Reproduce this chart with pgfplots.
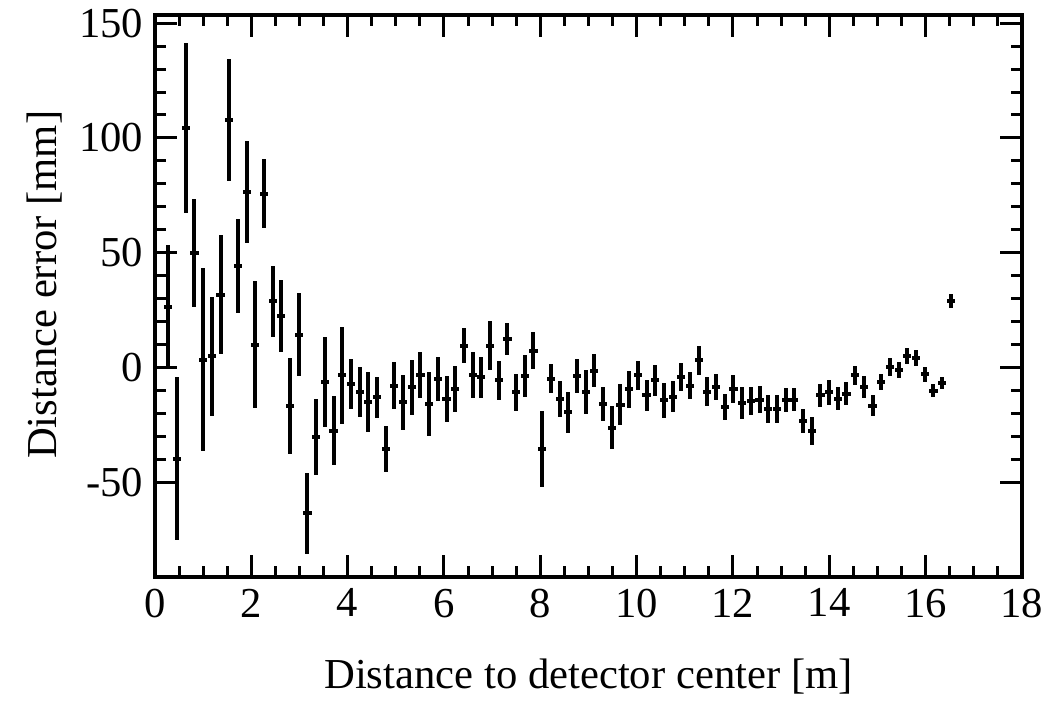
\documentclass[border=0pt]{standalone}
\usepackage{fontspec}
\setmainfont{Liberation Serif}
\usepackage{pgfplots}
\pgfplotsset{compat=1.18}
\usepackage{pgfplotstable}

\pgfplotstableread{
x y ex ey
0.277 26.4 0.085 27
0.458 -39.6 0.085 35.5
0.638 104.3 0.085 37
0.819 50.0 0.085 23.5
0.999 3.6 0.085 40
1.180 5.0 0.085 26
1.360 31.9 0.085 26
1.541 107.7 0.085 26.5
1.721 44.2 0.085 20.5
1.902 76.5 0.085 22
2.082 10.1 0.085 27.6
2.263 75.8 0.085 15
2.443 29.0 0.085 15.5
2.624 22.4 0.085 15.6
2.804 -16.7 0.085 21
2.985 14.5 0.085 18
3.165 -63.3 0.085 17.5
3.346 -30.0 0.085 16.5
3.526 -6.2 0.085 19.5
3.707 -27.3 0.085 15
3.887 -3.3 0.085 21
4.068 -7.0 0.085 11
4.248 -10.6 0.085 11
4.429 -15.0 0.085 13
4.609 -12.8 0.085 9
4.790 -35.2 0.085 10
4.970 -7.7 0.085 10.3
5.151 -15.0 0.085 12
5.331 -8.4 0.085 12
5.512 -3.3 0.085 10
5.692 -15.7 0.085 14
5.873 -4.8 0.085 9.5
6.053 -13.5 0.085 10
6.234 -9.1 0.085 10
6.414 9.7 0.085 7.6
6.595 -3.3 0.085 10
6.775 -4.1 0.085 9
6.956 9.7 0.085 10.6
7.136 -5.5 0.085 8.5
7.317 12.6 0.085 7
7.497 -10.6 0.085 8
7.678 -3.6 0.085 9
7.858 7.5 0.085 8
8.039 -35.2 0.085 16.5
8.219 -4.8 0.085 6.3
8.400 -13.5 0.085 7.7
8.580 -19.3 0.085 9
8.761 -3.6 0.085 7.4
8.941 -10.6 0.085 9.6
9.122 -1.2 0.085 7
9.302 -15.7 0.085 7.5
9.483 -26.1 0.085 9.4
9.663 -16.0 0.085 9
9.844 -9.4 0.085 8
10.024 -3.3 0.085 6.3
10.205 -12.0 0.085 6.8
10.385 -5.5 0.085 6.6
10.566 -14.2 0.085 7.8
10.746 -12.6 0.085 6.8
10.927 -3.9 0.085 6
11.107 -7.7 0.085 5.7
11.288 3.2 0.085 6.4
11.468 -10.4 0.085 6.3
11.649 -8.4 0.085 5.6
11.829 -17.0 0.085 5.8
12.010 -9.1 0.085 6
12.190 -15.2 0.085 6.9
12.371 -14.5 0.085 6
12.551 -13.8 0.085 6
12.732 -17.8 0.085 6
12.912 -17.8 0.085 6
13.093 -14.1 0.085 5.3
13.273 -13.8 0.085 5
13.454 -23.2 0.085 5.2
13.634 -27.6 0.085 6
13.815 -12.0 0.085 5
13.995 -10.6 0.085 5.5
14.176 -13.5 0.085 5
14.356 -11.2 0.085 5
14.537 -3.3 0.085 4.2
14.717 -8.3 0.085 4.7
14.898 -16.4 0.085 4.7
15.078 -6.2 0.085 3.6
15.259 0.4 0.085 3.8
15.439 -1.0 0.085 3.6
15.620 5.0 0.085 3.5
15.800 4.3 0.085 3.4
15.981 -2.9 0.085 3.3
16.161 -9.9 0.085 2.9
16.342 -6.8 0.085 2.6
16.522 29.0 0.085 3
}\datatable

\begin{document}
\begin{tikzpicture}
\begin{axis}[
  scale only axis, width=260.1pt, height=168.6pt,
  xmin=0, xmax=18, ymin=-91, ymax=153.5,
  xtick={0,2,...,18}, minor x tick num=3,
  ytick={-50,0,50,100,150}, minor y tick num=4,
  tick align=inside, tick pos=both,
  major tick length=6.6pt, minor tick length=3.3pt,
  every tick/.style={black, line width=0.9pt},
  axis line style={line width=1.3pt},
  font=\fontsize{12.8}{15}\selectfont,
  /pgf/number format/assume math mode=true,
  xlabel={Distance to detector center [m]},
  ylabel={Distance error [mm]},
  xlabel style={at={(axis description cs:0.5,-0.178)}, anchor=center},
  ylabel style={at={(axis description cs:-0.127,0.52)}, anchor=center},
]
\addplot[black, only marks, mark size=0pt,
  mark options={draw opacity=0, fill opacity=0},
  error bars/.cd, x dir=both, x explicit, y dir=both, y explicit,
  error mark=none, error bar style={line width=1.2pt, black, draw opacity=1}]
  table[x=x, y=y, x error=ex, y error=ey] {\datatable};
\end{axis}
\pgfresetboundingbox
\path[use as bounding box] ([xshift=-46.5pt,yshift=-41.1pt]current axis.south west) rectangle ([xshift=10.2pt,yshift=4.5pt]current axis.north east);
\end{tikzpicture}
\end{document}
